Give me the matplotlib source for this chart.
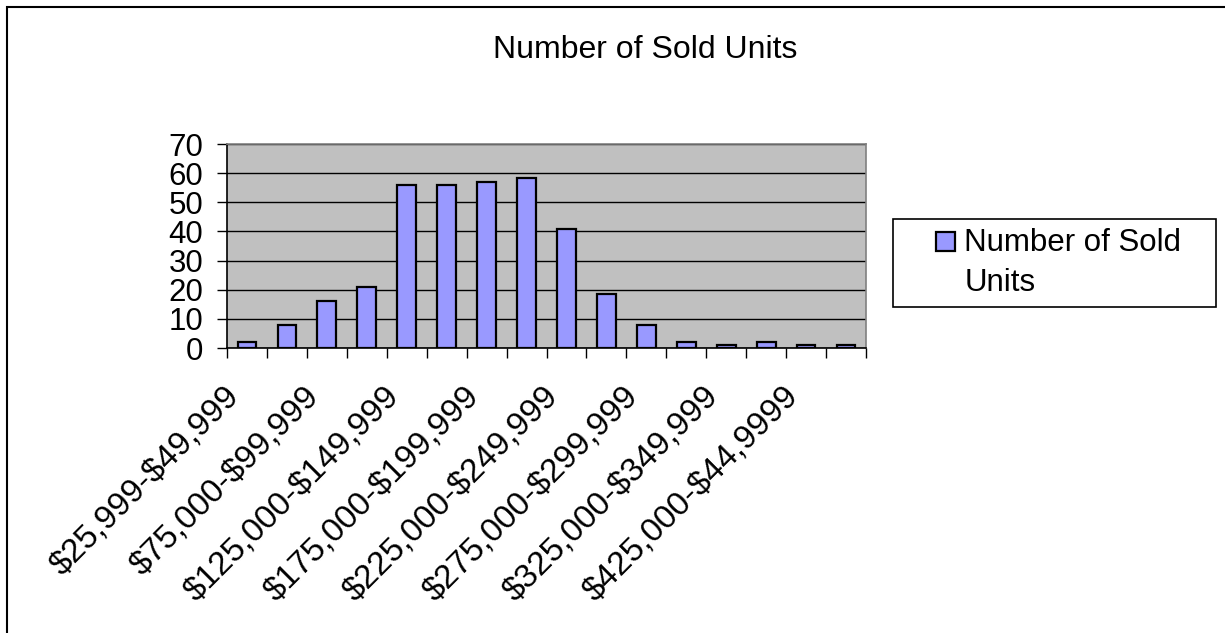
import numpy as np
import matplotlib
matplotlib.use('Agg')
import matplotlib.pyplot as plt
from matplotlib.patches import Rectangle
from matplotlib.legend_handler import HandlerPatch

plt.rcParams['font.family'] = ['Liberation Sans', 'DejaVu Sans']
plt.rcParams['text.parse_math'] = False  # the labels are full of $ signs

# sold units per price bracket (16 brackets, only every other one is labelled)
sold_units = [2, 8, 16, 21, 56, 56, 57, 58.5, 41, 18.5, 8, 2, 1, 2, 1, 1]
tick_labels = ['$25,999-$49,999', '$75,000-$99,999', '$125,000-$149,999',
               '$175,000-$199,999', '$225,000-$249,999', '$275,000-$299,999',
               '$325,000-$349,999', '$425,000-$44,9999']
y_ticks = [0, 10, 20, 30, 40, 50, 60, 70]
series_name = 'Number of Sold\nUnits'
title = 'Number of Sold Units'

W, H = 1225, 633
fig = plt.figure(figsize=(W / 100, H / 100), dpi=100)

# outer chart border (right/bottom edges run off the picture)
fig.patches.append(Rectangle((7 / W, -0.1), 1.2, 1.1 - 7 / H, transform=fig.transFigure,
                             fill=False, edgecolor='black', lw=1.5))

ax = fig.add_axes([227 / W, 1 - 348 / H, (866 - 227) / W, (348 - 144) / H])
ax.set_facecolor('#C0C0C0')

x = np.arange(len(sold_units))
bars = ax.bar(x, sold_units, width=0.47, color='#9999FF', edgecolor='black',
              lw=1.6, zorder=3)

ax.set_xlim(-0.5, len(sold_units) - 0.5)
ax.set_ylim(0, 70)
ax.set_yticks(y_ticks)
ax.yaxis.grid(True, color='black', lw=1, zorder=1)
ax.set_axisbelow(True)

# ticks on category boundaries, labels on every other category
# (label anchors nudged a little left of the bar centre, like the original)
ax.set_xticks(np.arange(-0.5, len(sold_units), 1))
ax.set_xticklabels([])
ax.set_xticks(np.arange(0, len(sold_units), 2) - 0.3, minor=True)
ax.set_xticklabels(tick_labels, minor=True, rotation=45, ha='right',
                   va='center', rotation_mode='anchor', fontsize=24)
ax.tick_params(axis='x', which='major', direction='out', length=7, width=1)
ax.tick_params(axis='x', which='minor', length=0, pad=32)
ax.tick_params(axis='y', direction='out', length=7, width=1, pad=10, labelsize=22.5)

ax.spines['left'].set_color('black')
ax.spines['bottom'].set_color('black')
ax.spines['top'].set_color('#808080')
ax.spines['right'].set_color('#808080')
for s in ax.spines.values():
    s.set_linewidth(1.2)

fig.text(645 / W, 1 - 58 / H, title, ha='center', va='baseline', fontsize=23)


def top_square(legend, orig_handle, xdescent, ydescent, width, height, fontsize):
    # key square sits at the right of the handle slot, next to the first text line
    side = 0.6 * fontsize
    return Rectangle((-xdescent + width - side + 2, -ydescent + 0.72 * fontsize), side, side)


key = bars.patches[0]
leg = fig.legend(handles=[key], labels=[series_name], loc='upper left',
                 bbox_to_anchor=(893 / W, 1 - 307 / H, (1216 - 893) / W, 88 / H),
                 mode='expand', borderaxespad=0,
                 fontsize=22.5, frameon=True, fancybox=False, edgecolor='black',
                 handlelength=1.6, handleheight=0.6, handletextpad=0.38,
                 borderpad=0.3,
                 handler_map={Rectangle: HandlerPatch(patch_func=top_square)})
leg.get_frame().set_linewidth(1.2)
leg.get_frame().set_alpha(1)
leg.get_texts()[0].set_linespacing(1.4)

fig.savefig('out.png', dpi=100)
